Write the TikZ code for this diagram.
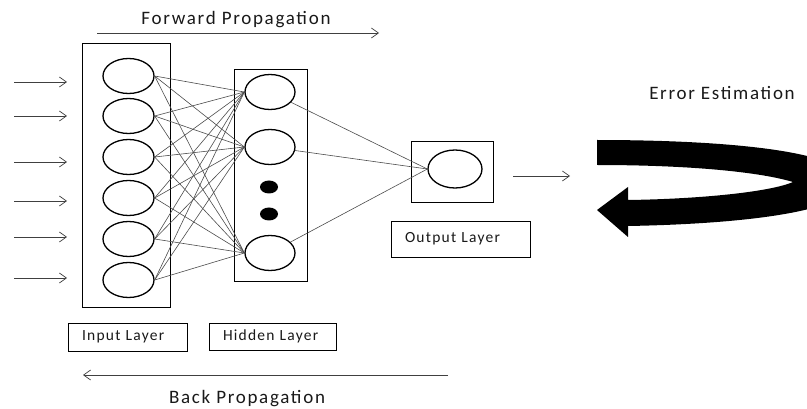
\documentclass[tikz,border=0pt]{standalone}
\usepackage{fontspec}
\setmainfont{Carlito}
\usetikzlibrary{arrows.meta,shapes.geometric}
\begin{document}
\begin{tikzpicture}[x=1pt,y=-1pt,
  neuron/.style={draw, ellipse, line width=1.3pt, inner sep=0pt, minimum width=51pt, minimum height=35pt},
  dotnode/.style={fill, ellipse, inner sep=0pt, minimum width=18pt, minimum height=13pt},
  layerbox/.style={draw, line width=0.8pt, inner sep=0pt},
  link/.style={draw=black!70, line width=0.6pt},
  arr/.style={-{Straight Barb[length=7pt,width=10pt]}, line width=0.7pt, draw=black!75},
  lbl/.style={draw, line width=0.8pt, inner xsep=14pt, inner ysep=0pt, align=left, text=black!90,
    font=\fontsize{15.5}{16}\selectfont\addfontfeature{LetterSpace=8}},
  big/.style={text=black!90, inner sep=0pt, font=\fontsize{19}{19}\selectfont\addfontfeature{LetterSpace=9}}]
\useasboundingbox (0,0) rectangle (807,409);

% layer boxes
\node[layerbox, minimum width=88pt, minimum height=264pt] (inbox) at (126,175) {};
\node[layerbox, minimum width=73pt, minimum height=212pt] (hidbox) at (270.5,175) {};
\node[layerbox, minimum width=82pt, minimum height=61pt] (outbox) at (452,171.5) {};

% input neurons
\foreach \i/\y in {1/76,2/116,3/157,4/198,5/239,6/280}
  \node[neuron] (i\i) at (128.5,\y) {};
% hidden neurons
\node[neuron, minimum width=50pt] (h1) at (270,92) {};
\node[neuron, minimum width=50pt] (h2) at (270,147) {};
\node[neuron, minimum width=50pt] (h3) at (270,253) {};
\node[dotnode] (d1) at (269,187) {};
\node[dotnode] (d2) at (269,214) {};
% output neuron
\node[neuron, minimum width=54pt, minimum height=38pt] (o) at (455,169) {};

% connections
\foreach \i in {1,...,6}
  \foreach \h in {1,2,3}
    \draw[link] (i\i.east) -- (h\h.west);
\foreach \h in {1,2,3}
  \draw[link] (h\h) -- (o.west);

% input arrows
\foreach \k/\y in {1/82,2/116,3/162,4/201,5/237,6/278} {
  \coordinate (ia\k) at (14,\y);
  \coordinate (ib\k) at (67,\y);
  \draw[arr] (ia\k) -- (ib\k);
}

% output arrow
\coordinate (oa) at (513,176);
\coordinate (ob) at (570,176);
\draw[arr] (oa) -- (ob);

% forward / back propagation
\coordinate (fa) at (97,33);
\coordinate (fb) at (379,33);
\draw[arr] (fa) -- (fb);
\node[big] (ftext) at (236,20) {Forward Propagation};
\coordinate (ba) at (448,375);
\coordinate (bb) at (83,375);
\draw[arr] (ba) -- (bb);
\node[big] (btext) at (247,399) {Back Propagation};

% labels
\node[lbl, text width=91pt, minimum height=28pt] (inlbl) at (127.5,337) {Input Layer};
\node[lbl, text width=99pt, minimum height=27pt] (hidlbl) at (272.5,336.5) {Hidden Layer};
\node[lbl, text width=111pt, minimum height=36pt] (outlbl) at (460.5,239) {Output Layer};

\node[big] (err) at (722,93) {Error Estimation};

% big curved arrow
\begin{scope}
\clip (0,0) rectangle (807,409);
\fill (597,140) .. controls (720,140) and (850,150) .. (850,183)
  .. controls (850,212) and (740,224) .. (628,226)
  -- (628,237) -- (597,210) -- (628,187) -- (628,200)
  .. controls (700,199) and (770,192) .. (793,182)
  .. controls (760,172) and (690,165) .. (597,165) -- cycle;
\end{scope}
\end{tikzpicture}
\end{document}
